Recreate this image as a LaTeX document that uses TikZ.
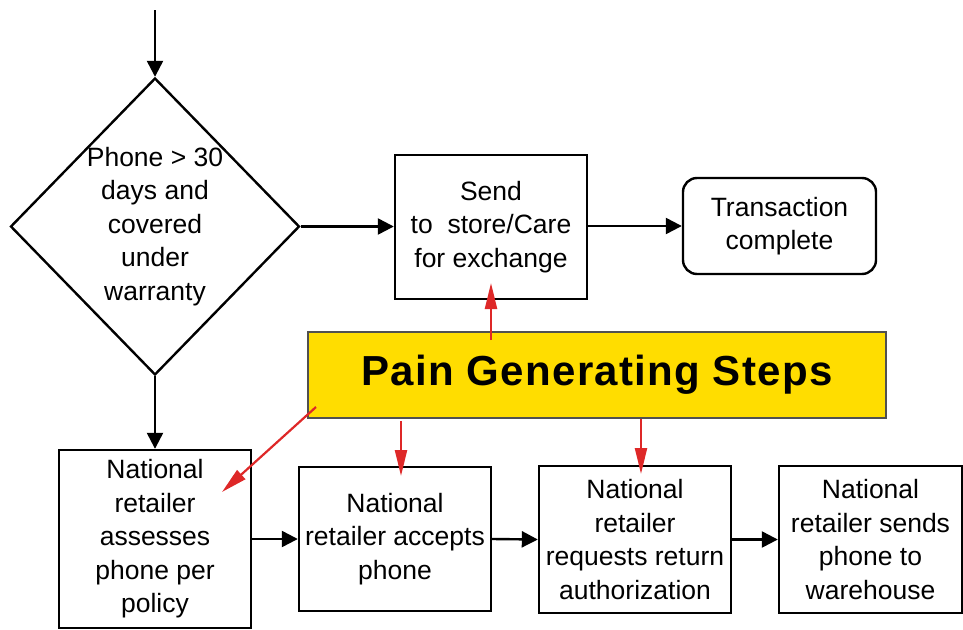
\documentclass[tikz,border=0pt]{standalone}
\usepackage{fontspec}
\setmainfont{Liberation Sans}
\usetikzlibrary{shapes.geometric,arrows.meta}
\definecolor{painyellow}{RGB}{255,221,0}
\definecolor{painred}{RGB}{222,40,40}
\definecolor{paingray}{RGB}{80,80,80}
\tikzset{
  box/.style={draw=black, line width=2.4pt, align=center, inner sep=0pt,
    font=\fontsize{26.5}{33.5}\selectfont},
  flow/.style={line width=2.4pt, -{Triangle[length=16pt,width=16pt]}},
  redarrow/.style={draw=painred, line width=2.2pt, -{Triangle[length=26pt,width=12pt]}},
}
\begin{document}
\begin{tikzpicture}[x=1pt,y=-1pt]
\useasboundingbox (0,0) rectangle (963,629);
% decision
\node[draw, line width=2.4pt, shape=diamond, minimum width=289pt, minimum height=297pt, inner sep=0pt] (dec) at (155,226.5) {};
\node[align=center, font=\fontsize{26.5}{33.5}\selectfont] (dectext) at (155,226.5) {Phone > 30\\days and\\covered\\under\\warranty};
\coordinate (start) at (155,10);
% boxes
\node[box, minimum width=192pt, minimum height=144pt] (send) at (491,227) {Send\\to\ \ store/Care\\for exchange};
\node[box, rounded corners=14pt, minimum width=193pt, minimum height=96pt] (trans) at (779.5,226) {Transaction\\complete};
\node[draw=paingray, line width=1.4pt, fill=painyellow, minimum width=578pt, minimum height=86pt, inner sep=0pt,
  font=\fontsize{42}{50}\selectfont\bfseries\addfontfeature{LetterSpace=3}] (pain) at (597,375) {Pain Generating Steps};
\node[box, minimum width=192pt, minimum height=178pt] (assess) at (155,539) {National\\retailer\\assesses\\phone per\\policy};
\node[box, minimum width=192pt, minimum height=144pt] (accept) at (395,539) {National\\retailer accepts\\phone};
\node[box, minimum width=192pt, minimum height=147pt] (request) at (635,539.5) {National\\retailer\\requests return\\authorization};
\node[box, minimum width=183pt, minimum height=147pt] (sends) at (870.5,539.5) {National\\retailer sends\\phone to\\warehouse};
% black connectors
\draw[flow] (start) -- (dec.north);
\draw[flow] (dec.east) -- (dec.east -| send.west);
\draw[flow] (send.east |- trans.west) -- (trans.west);
\draw[flow] (dec.south) -- (assess.north);
\draw[flow] (assess.east |- accept.west) -- (accept.west);
\draw[flow] (accept.east) -- (request.west);
\draw[flow] (request.east) -- (sends.west);
% red connectors
\coordinate (r0s) at (491,340);
\coordinate (r0e) at (491,283);
\coordinate (r1s) at (316,407);
\coordinate (r1e) at (222,492);
\coordinate (r2s) at (401,421);
\coordinate (r2e) at (401,476);
\coordinate (r3s) at (641,419);
\coordinate (r3e) at (641,474);
\draw[redarrow] (r0s) -- (r0e);
\draw[redarrow] (r1s) -- (r1e);
\draw[redarrow] (r2s) -- (r2e);
\draw[redarrow] (r3s) -- (r3e);
\end{tikzpicture}
\end{document}
